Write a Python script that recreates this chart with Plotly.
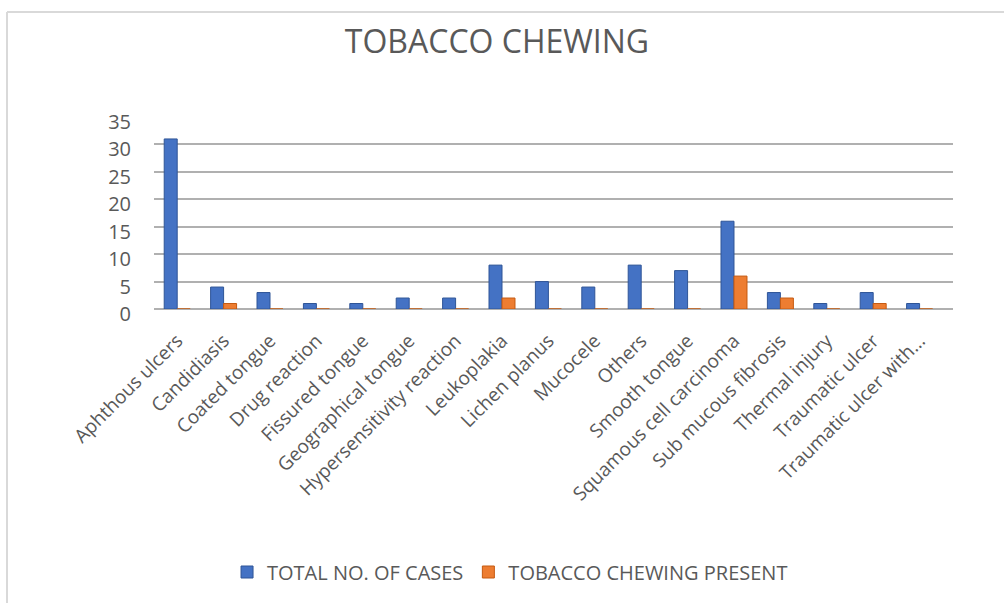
import plotly.graph_objects as go

categories = ["Aphthous ulcers", "Candidiasis", "Coated tongue", "Drug reaction",
              "Fissured tongue", "Geographical tongue", "Hypersensitivity reaction",
              "Leukoplakia", "Lichen planus", "Mucocele", "Others", "Smooth tongue",
              "Squamous cell carcinoma", "Sub mucous fibrosis", "Thermal injury",
              "Traumatic ulcer", "Traumatic ulcer with..."]
total_cases = [31, 4, 3, 1, 1, 2, 2, 8, 5, 4, 8, 7, 16, 3, 1, 3, 1]
tobacco_present = [0, 1, 0, 0, 0, 0, 0, 2, 0, 0, 0, 0, 6, 2, 0, 1, 0]
y_ticks = [0, 5, 10, 15, 20, 25, 30, 35]

W, H = 1004, 603
FONT = "Open Sans"
GREY = "#595959"

fig = go.Figure()
fig.add_trace(go.Bar(x=categories, y=total_cases, name="TOTAL NO. OF CASES",
                     marker=dict(color="#4472C4", line=dict(color="#2F5597", width=1))))
fig.add_trace(go.Bar(x=categories, y=tobacco_present, name="TOBACCO CHEWING PRESENT",
                     marker=dict(color="#ED7D31", line=dict(color="#C55A11", width=1))))

left, right, top, bottom = 154, 953, 117, 309
fig.update_layout(
    width=W, height=H,
    paper_bgcolor="white", plot_bgcolor="white",
    margin=dict(l=left, r=W - right, t=top, b=H - bottom),
    barmode="group", bargap=0.44, bargroupgap=0,
    title=dict(text="TOBACCO CHEWING", x=0.495, xanchor="center", xref="container",
               y=1 - 42 / H, yanchor="middle", yref="container",
               font=dict(family=FONT, size=32, color=GREY)),
    font=dict(family=FONT, color=GREY),
    showlegend=True,
    legend=dict(orientation="h", x=0.508, xanchor="center", xref="container",
                y=1 - 572 / H, yanchor="middle", yref="container",
                font=dict(family=FONT, size=20, color=GREY),
                itemwidth=30, traceorder="normal"),
    xaxis=dict(type="category", range=[-0.5, 16.72], tickangle=-45,
               tickfont=dict(family=FONT, size=19, color=GREY),
               showgrid=False, showline=False, ticks="", ticklabelstandoff=16,
               automargin=False),
    yaxis=dict(range=[0, 35], tickvals=y_ticks, showgrid=True,
               gridcolor="#B0B0B0", gridwidth=2, zeroline=True,
               zerolinecolor="#B0B0B0", zerolinewidth=2,
               tickfont=dict(family=FONT, size=20, color=GREY),
               ticks="", ticklabelstandoff=22, ticklabelshift=5,
               automargin=False),
)

# chart frame border
fig.add_shape(type="line", xref="paper", yref="paper",
              x0=(7 - left) / (right - left), x1=(W + 5 - left) / (right - left),
              y0=(bottom - 12) / (bottom - top), y1=(bottom - 12) / (bottom - top),
              line=dict(color="#D9D9D9", width=2))
fig.add_shape(type="line", xref="paper", yref="paper",
              x0=(7 - left) / (right - left), x1=(7 - left) / (right - left),
              y0=(bottom - 12) / (bottom - top), y1=(bottom - H - 5) / (bottom - top),
              line=dict(color="#D9D9D9", width=2))

fig.write_html("out.html")
